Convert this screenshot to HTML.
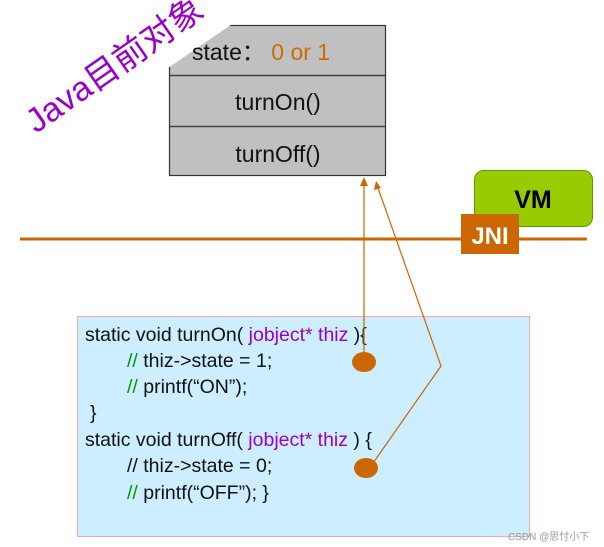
<!DOCTYPE html>
<html><head><meta charset="utf-8"><style>
body{margin:0;background:#fff;}
svg{display:block;font-family:"Liberation Sans","Noto Sans CJK SC",sans-serif;}
</style></head><body>
<svg width="604" height="547" viewBox="0 0 604 547">
<rect x="169.5" y="25.5" width="216" height="150" fill="#c0c0c0" stroke="#333" stroke-width="1.2"/>
<line x1="170" y1="75.5" x2="385" y2="75.5" stroke="#444" stroke-width="1.5"/>
<line x1="170" y1="126.5" x2="385" y2="126.5" stroke="#444" stroke-width="1.5"/>
<polygon points="160,20 238,20 168,68 160,68" fill="#fff"/>
<text x="192" y="60" font-size="23" fill="#111">state：<tspan fill="#d06a00"> 0 or 1</tspan></text>
<text x="278" y="110" font-size="23" fill="#111" text-anchor="middle">turnOn()</text>
<text x="278" y="162" font-size="23" fill="#111" text-anchor="middle">turnOff()</text>
<text transform="translate(36,134) rotate(-35)" font-size="34" fill="#9900cc">Java目前对象</text>

<rect x="474.5" y="170.5" width="118" height="56" rx="9" fill="#99cc00" stroke="#5a9a00"/>
<text x="533" y="208" font-size="25" font-weight="bold" text-anchor="middle" fill="#000">VM</text>
<line x1="20" y1="239" x2="587" y2="239" stroke="#cc6600" stroke-width="3"/>
<rect x="461" y="214" width="58" height="40" fill="#cc6600"/>
<text x="490" y="244" font-size="24" font-weight="bold" text-anchor="middle" fill="#fff">JNI</text>

<rect x="77.5" y="316.5" width="452" height="220" fill="#cceeff" stroke="#f4a8a8"/>
<g font-size="19.5" fill="#111">
<text x="85" y="341">static void turnOn( <tspan fill="#9900cc">jobject* thiz</tspan> ){</text>
<text x="127" y="367"><tspan fill="#009900">//</tspan> thiz-&gt;state = 1;</text>
<text x="127" y="393"><tspan fill="#009900">//</tspan> printf(“ON”);</text>
<text x="90" y="419">}</text>
<text x="85" y="446">static void turnOff( <tspan fill="#9900cc">jobject* thiz</tspan> ) {</text>
<text x="127" y="472">// thiz-&gt;state = 0;</text>
<text x="127" y="499"><tspan fill="#009900">//</tspan> printf(“OFF”); }</text>
</g>

<g stroke="#cc6600" stroke-width="1.2" fill="none">
<line x1="364" y1="362" x2="364" y2="184"/>
<polyline points="371,466 441,366 378,188"/>
</g>
<polygon points="364,177 360,186 368,186" fill="#cc6600"/>
<polygon points="376,181 374,190 381,188" fill="#cc6600"/>
<ellipse cx="364" cy="362" rx="12" ry="10" fill="#cc6600"/>
<ellipse cx="366" cy="468" rx="12" ry="10" fill="#cc6600"/>
<text x="508" y="540" font-size="10" fill="#999">CSDN @思忖小下</text>
</svg>
</body></html>
